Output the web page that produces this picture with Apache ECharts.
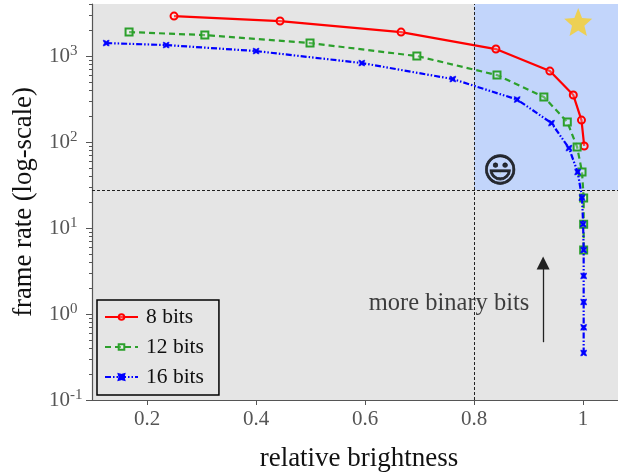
<!DOCTYPE html>
<html><head><meta charset="utf-8">
<style>html,body{margin:0;padding:0;background:#fff}#c{width:618px;height:475px}</style>
<script src="https://cdn.jsdelivr.net/npm/echarts@6/dist/echarts.min.js"></script>
</head><body><div id="c"></div>
<script>
const bits8 = [[0.2495,2917],[0.444,2553],[0.666,1901],[0.84,1206],[0.939,669],[0.982,352],[0.997,180],[1.002,90]];
const bits12 = [[0.167,1901],[0.306,1754],[0.499,1416],[0.695,1000],[0.842,601],[0.928,334],[0.971,171],[0.989,87.5],[0.998,44.8],[1.001,22.3],[1.001,11.1],[1.001,5.55]];
const bits16 = [[0.125,1416],[0.235,1342],[0.4,1143],[0.594,829],[0.761,540],[0.879,312],[0.942,166],[0.974,85],[0.99,44.8],[0.998,22.6],[1,11.1],[1.001,5.55],[1.001,2.77],[1.001,1.38],[1.001,0.7],[1.001,0.352]];
const xTicks = [0.2,0.4,0.6,0.8,1];
const yTicks = [0.1,1,10,100,1000];
const yMinor = [0.2,0.3,0.4,0.5,0.6,0.7,0.8,0.9,2,3,4,5,6,7,8,9,20,30,40,50,60,70,80,90,200,300,400,500,600,700,800,900,2000,3000,4000];
const xRange = [0.099,1.064];
const yRange = [0.1,4030];
const goalX = 0.8, goalY = 27.7;
const starPoint = [0.991,2485];
const smilePoint = [0.848,43.5];
const notePoint = [0.754,1.31];
const arrowFrom = [0.9266,0.47], arrowTo = [0.9266,3.92];
const serif = '"Liberation Serif","Times New Roman",serif';
const exp = {'0.1':'-1','1':'0','10':'1','100':'2','1000':'3'};
const starPath = 'path://M0,-10 L2.6,-3.6 9.5,-3.1 4.2,1.4 5.9,8.1 0,4.5 -5.9,8.1 -4.2,1.4 -9.5,-3.1 -2.6,-3.6 Z';
const xMark = 'path://M-10,-10 L-3,-8 0,-5 3,-8 10,-10 8,-3 5,0 8,3 10,10 3,8 0,5 -3,8 -10,10 -8,3 -5,0 -8,-3 Z';
const chart = echarts.init(document.getElementById('c'), null, {renderer:'canvas'});
function curve(name,data,color,dash,symbol,size,hollow,z){
  return {name,type:'line',data,z,symbol,symbolSize:size,showSymbol:true,clip:false,
    lineStyle:{color,width:2.2,type:dash},
    itemStyle:{color:hollow?'rgba(255,255,255,0.25)':color,borderColor:color,borderWidth:hollow?2:0.5},
    emphasis:{disabled:true}};
}
chart.setOption({
  animation:false,
  backgroundColor:'#fff',
  grid:{left:92,right:0,top:4,bottom:75,backgroundColor:'#e5e5e5',show:true,borderWidth:0,outerBoundsMode:'none'},
  legend:{orient:'vertical',left:97,top:300,data:['8 bits','12 bits','16 bits'],
    padding:[5,15,6,7],itemGap:6,itemWidth:33,itemHeight:7,
    borderColor:'#000',borderWidth:1.5,borderRadius:0,backgroundColor:'transparent',
    textStyle:{fontFamily:serif,fontSize:21.5,color:'#111',padding:[0,0,0,3],lineHeight:24}},
  xAxis:{type:'value',min:xRange[0],max:xRange[1],
    name:'relative brightness',nameLocation:'middle',nameGap:45,
    nameTextStyle:{fontFamily:serif,fontSize:27,color:'#111',padding:[0,0,0,8]},
    splitLine:{show:false},
    axisLine:{show:true,lineStyle:{color:'#555',width:1.2}},
    axisTick:{show:true,length:5,customValues:xTicks,lineStyle:{color:'#555'}},
    axisLabel:{customValues:xTicks,fontFamily:serif,fontSize:21,color:'#555',margin:9}},
  yAxis:[{type:'log',logBase:10,min:yRange[0],max:yRange[1],
    name:'frame rate (log-scale)',nameLocation:'middle',nameGap:55,
    nameTextStyle:{fontFamily:serif,fontSize:26.7,color:'#111'},
    splitLine:{show:false},minorTick:{show:false},
    axisLine:{show:true,onZero:false,lineStyle:{color:'#555',width:1.2}},
    axisTick:{show:true,length:6,customValues:yTicks,lineStyle:{color:'#555'}},
    axisLabel:{customValues:yTicks,margin:43,align:'left',color:'#555',
      formatter:v=>'{b|10}{s|'+exp[String(+v.toPrecision(3))]+'}',
      rich:{b:{fontFamily:serif,fontSize:21,color:'#555'},
            s:{fontFamily:serif,fontSize:15,color:'#555',verticalAlign:'bottom',padding:[0,0,9,0]}}}},
   {type:'log',logBase:10,min:yRange[0],max:yRange[1],position:'left',
    splitLine:{show:false},axisLine:{show:false},axisLabel:{show:false},
    axisTick:{show:true,length:3,customValues:yMinor,lineStyle:{color:'#555'}}}],
  series:[
    {name:'goal',type:'line',data:[],z:1,silent:true,
     markArea:{silent:true,itemStyle:{color:'#c2d5fb',opacity:1},
       data:[[{xAxis:goalX,yAxis:goalY},{xAxis:xRange[1],yAxis:yRange[1]}]]},
     markLine:{silent:true,symbol:'none',animation:false,label:{show:false},
       lineStyle:{color:'#222',width:1,type:[3,2]},
       data:[{xAxis:goalX},{yAxis:goalY}]}},
    curve('8 bits',bits8,'#ff0000','solid','circle',7,true,3),
    curve('12 bits',bits12,'#2ca02c',[6,4],'rect',7,true,4),
    curve('16 bits',bits16,'#0000ff',[6,2,1.5,2,1.5,2],xMark,6,false,5),
    {name:'star',type:'scatter',data:[starPoint],symbol:starPath,symbolSize:28,z:6,silent:true,
     itemStyle:{color:'#f7ce2a'}},
    {name:'smile',type:'scatter',data:[smilePoint],symbolSize:1,z:6,silent:true,
     label:{show:true,position:'inside',formatter:'\u{1F603}',fontFamily:'"DejaVu Sans"',fontSize:34,color:'#000',textBorderColor:'#000',textBorderWidth:0.6}},
    {name:'note',type:'scatter',data:[notePoint],symbolSize:1,z:6,silent:true,
     label:{show:true,position:'inside',formatter:'more binary bits',fontFamily:serif,fontSize:24.5,color:'#111'}},
    {name:'arrow',type:'line',data:[],z:6,silent:true,
     markLine:{silent:true,symbol:['none','triangle'],symbolSize:13,label:{show:false},
       lineStyle:{color:'#222',width:1.3,type:'solid'},
       data:[[{coord:arrowFrom},{coord:arrowTo}]]}}
  ]
});
</script></body></html>
